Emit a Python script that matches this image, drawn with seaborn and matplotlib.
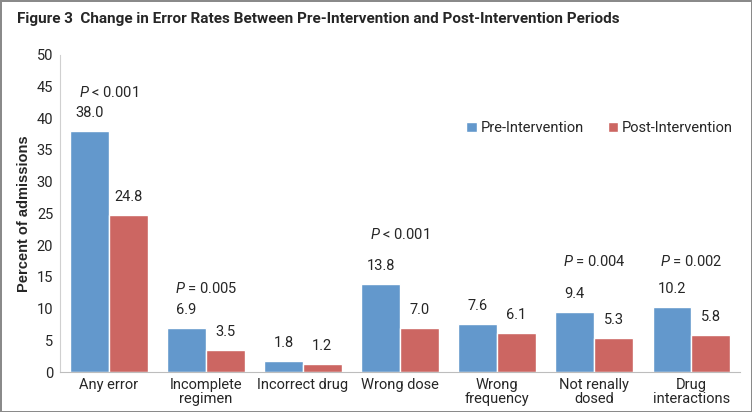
import pandas as pd
import seaborn as sns
import matplotlib.pyplot as plt
from matplotlib.ticker import FixedLocator

# Data
categories = ['Any error', 'Incomplete\nregimen', 'Incorrect drug', 'Wrong dose',
              'Wrong\nfrequency', 'Not renally\ndosed', 'Drug\ninteractions']
pre_values = [38.0, 6.9, 1.8, 13.8, 7.6, 9.4, 10.2]
post_values = [24.8, 3.5, 1.2, 7.0, 6.1, 5.3, 5.8]
p_labels = ['< 0.001', '= 0.005', '', '< 0.001', '', '= 0.004', '= 0.002']
series = ['Pre-Intervention', 'Post-Intervention']

df = pd.DataFrame({
    'category': categories * 2,
    'value': pre_values + post_values,
    'period': [series[0]] * len(categories) + [series[1]] * len(categories),
})

sns.set_style('white')
plt.rcParams['font.family'] = ['Roboto', 'DejaVu Sans']
plt.rcParams['mathtext.fontset'] = 'custom'
plt.rcParams['mathtext.it'] = 'Roboto:italic'
plt.rcParams['mathtext.rm'] = 'Roboto'

fig = plt.figure(figsize=(7.52, 4.12), dpi=100, edgecolor='#8a8a8a', linewidth=2)
ax = fig.add_axes([0.08, 0.097, 0.904, 0.77])

palette = {series[0]: '#6398cc', series[1]: '#cc6662'}
sns.barplot(data=df, x='category', y='value', hue='period', palette=palette,
            width=0.8, edgecolor='white', linewidth=1, ax=ax, saturation=1)

for cont in ax.containers:
    ax.bar_label(cont, fmt='%.1f', padding=8, fontsize=10.5)

# p-value annotations (text heights in data units)
p_y = [44, 13.1, 0, 21.6, 0, 17.5, 17.5]
for i, lab in enumerate(p_labels):
    if lab:
        ax.text(i, p_y[i], r'$\it{P}$ ' + lab, ha='center', va='center', fontsize=10.5)

ax.set_ylim(0, 50)
ax.set_yticks(range(0, 51, 5))
ax.set_xlim(-0.5, len(categories) - 0.5)
ax.set_xlabel('')
ax.set_ylabel('Percent of admissions', fontsize=10.5, fontweight='bold',
              family=['Liberation Sans', 'DejaVu Sans'])
ax.tick_params(axis='both', labelsize=10.5, length=0, pad=5)
ax.tick_params(axis='x', pad=4)
for lbl in ax.get_xticklabels():
    lbl.set_linespacing(1.05)
ax.xaxis.set_minor_locator(FixedLocator([i - 0.5 for i in range(len(categories) + 1)]))
ax.tick_params(axis='x', which='minor', length=5, color='#bdbdbd', direction='out')

for side in ['top', 'right']:
    ax.spines[side].set_visible(False)
ax.spines['left'].set_color('#d0d0d0')
ax.spines['bottom'].set_color('#bdbdbd')

ax.legend(title=None, frameon=False, ncol=2, fontsize=10.5, loc='center right',
          bbox_to_anchor=(0.99, 0.77), handlelength=0.7, handleheight=0.7,
          handletextpad=0.3, columnspacing=1.6, borderaxespad=0, borderpad=0)

fig.text(0.022, 0.955, 'Figure 3  Change in Error Rates Between Pre-Intervention and Post-Intervention Periods',
         fontsize=11, fontweight='bold', va='center', ha='left')

fig.savefig('out.png', dpi=100)
